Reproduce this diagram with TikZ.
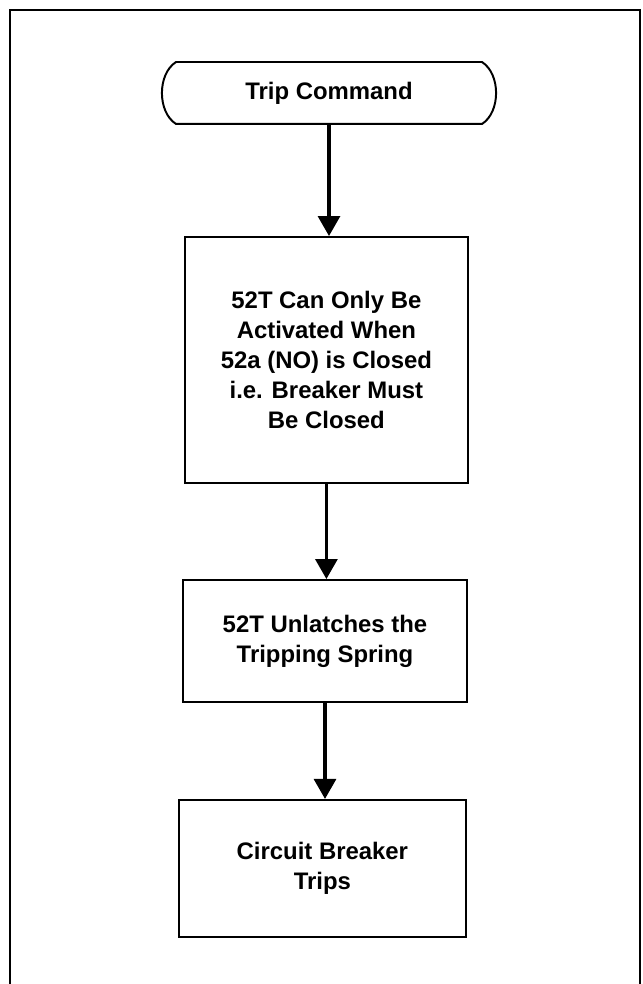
\documentclass[tikz,border=0pt]{standalone}
\usepackage{fontspec}
\setmainfont{Liberation Sans}
\usepackage{tikz}
\usetikzlibrary{arrows.meta,positioning}

\begin{document}
\begin{tikzpicture}[
		stepbox/.style={draw, line width=1.4pt, align=center, inner sep=0pt,
			font=\bfseries\fontsize{17}{21.5}\selectfont},
		terminal/.style={stepbox, draw=none},
		flow/.style={line width=2.2pt, -{Triangle[length=0.5cm, width=0.55cm]}}
	]
		\useasboundingbox (0,0) rectangle (16.05,-24.6);

		% outer frame
		\draw[line width=1.3pt] (0.25,-24.6) -- (0.25,-0.25) -- (16.0,-0.25) -- (16.0,-24.6);

		\node[terminal, minimum width=8.3cm, minimum height=1.5cm] (cmd) at (8.225,-2.325) {Trip Command};
		\node[stepbox, minimum width=7.075cm, minimum height=6.15cm] (cond) at (8.16,-9.0) {52T Can Only Be\\Activated When\\52a (NO) is Closed\\i.e. Breaker Must\\Be Closed};
		\node[stepbox, minimum width=7.1cm, minimum height=3.05cm] (unlatch) at (8.125,-16.025) {52T Unlatches the\\Tripping Spring};
		\node[stepbox, minimum width=7.175cm, minimum height=3.425cm] (trips) at (8.06,-21.71) {Circuit Breaker\\Trips};

		% terminal outline, flat top and bottom, bowed ends
		\draw[line width=1.4pt] ([xshift=0.35cm]cmd.north west) -- ([xshift=-0.35cm]cmd.north east)
			.. controls ([xshift=0.12cm,yshift=-0.3cm]cmd.north east) and ([xshift=0.12cm,yshift=0.3cm]cmd.south east) .. ([xshift=-0.35cm]cmd.south east)
			-- ([xshift=0.35cm]cmd.south west)
			.. controls ([xshift=-0.12cm,yshift=0.3cm]cmd.south west) and ([xshift=-0.12cm,yshift=-0.3cm]cmd.north west) .. cycle;

		\draw[flow] (cmd.south) -- (cmd.south |- cond.north);
		\draw[flow] (cond.south) -- (cond.south |- unlatch.north);
		\draw[flow] (unlatch.south) -- (unlatch.south |- trips.north);
	\end{tikzpicture}
\end{document}
